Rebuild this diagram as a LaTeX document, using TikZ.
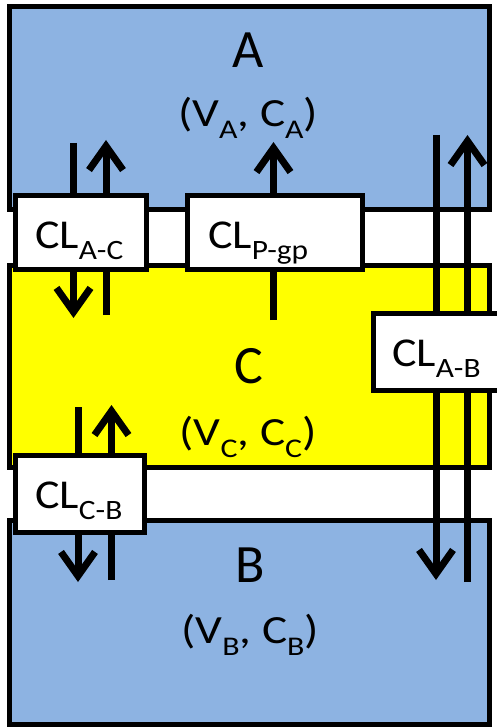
\documentclass[tikz,border=0pt]{standalone}
\usepackage{graphicx}
\usepackage{fontspec}
\setmainfont{Carlito}
\usetikzlibrary{arrows.meta}
\definecolor{compblue}{RGB}{141,179,226}
\definecolor{compyellow}{RGB}{255,255,0}
\newcommand\clsub[1]{\raisebox{-11pt}{\fontsize{28}{28}\selectfont #1}}
\newcommand\vsub[1]{\raisebox{-12pt}{\fontsize{27}{27}\selectfont #1}}
\newcommand\pairtext[1]{\scalebox{1.18}[1]{\fontsize{40}{40}\selectfont #1}}
\newcommand\cltxt[1]{\scalebox{1.12}[1]{\fontsize{41}{41}\selectfont #1}}
\begin{document}
\begin{tikzpicture}[x=1pt,y=-1pt,
  comp/.style={draw=black,line width=5pt},
  clbox/.style={draw=black,fill=white,line width=5pt},
  flow/.style={line width=7pt,-{Straight Barb[length=24pt,width=34pt]}},
  big/.style={font=\fontsize{54}{54}\selectfont, anchor=base, inner sep=0pt},
  pair/.style={anchor=base, inner sep=0pt},
  cltext/.style={anchor=base west, inner sep=0pt}]
\useasboundingbox (0,0) rectangle (497,727);
\begin{scope}
\clip (0,0) rectangle (497,727);
% compartments
\filldraw[comp,fill=compblue] (9.5,6.5) rectangle (489.5,209.5);
\filldraw[comp,fill=compyellow] (9.5,265.5) rectangle (489.5,467.5);
\filldraw[comp,fill=compblue] (9.5,520.5) rectangle (489.5,724);
% arrow end points
\coordinate (a1s) at (73.5,143); \coordinate (a1e) at (73.5,318);
\coordinate (a2s) at (106,315); \coordinate (a2e) at (106,140);
\coordinate (a3s) at (273.5,320); \coordinate (a3e) at (273.5,142);
\coordinate (a4s) at (436,135); \coordinate (a4e) at (436,580);
\coordinate (a5s) at (467.5,582); \coordinate (a5e) at (467.5,135);
\coordinate (a6s) at (78,407); \coordinate (a6e) at (78,582);
\coordinate (a7s) at (111.5,580); \coordinate (a7e) at (111.5,405);
\draw[flow] (a1s) -- (a1e);
\draw[flow] (a2s) -- (a2e);
\draw[flow] (a3s) -- (a3e);
\draw[flow] (a4s) -- (a4e);
\draw[flow] (a5s) -- (a5e);
\draw[flow] (a6s) -- (a6e);
\draw[flow] (a7s) -- (a7e);
% channel boxes
\draw[clbox] (15,195.5) rectangle (146,269.5);
\draw[clbox] (187.5,195.5) rectangle (362.5,269.5);
\draw[clbox] (373.5,313) rectangle (515,390);
\draw[clbox] (15,455.5) rectangle (144.5,532.5);
\end{scope}
% labels
\node[big] (lA) at (248,68) {A};
\node[pair] (pA) at (248,127) {\pairtext{(V\vsub{A}, C\vsub{A})}};
\node[big] (lC) at (249,383) {C};
\node[pair] (pC) at (248,445) {\pairtext{(V\vsub{C}, C\vsub{C})}};
\node[big] (lB) at (250,582) {B};
\node[pair] (pB) at (250,643) {\pairtext{(V\vsub{B}, C\vsub{B})}};
\node[cltext] (tAC) at (35,248) {\cltxt{CL\clsub{A-C}}};
\node[cltext] (tPgp) at (208,248) {\cltxt{CL\clsub{P-gp}}};
\node[cltext] (tAB) at (392,366) {\cltxt{CL\clsub{A-B}}};
\node[cltext] (tCB) at (35,508) {\cltxt{CL\clsub{C-B}}};
\end{tikzpicture}
\end{document}
